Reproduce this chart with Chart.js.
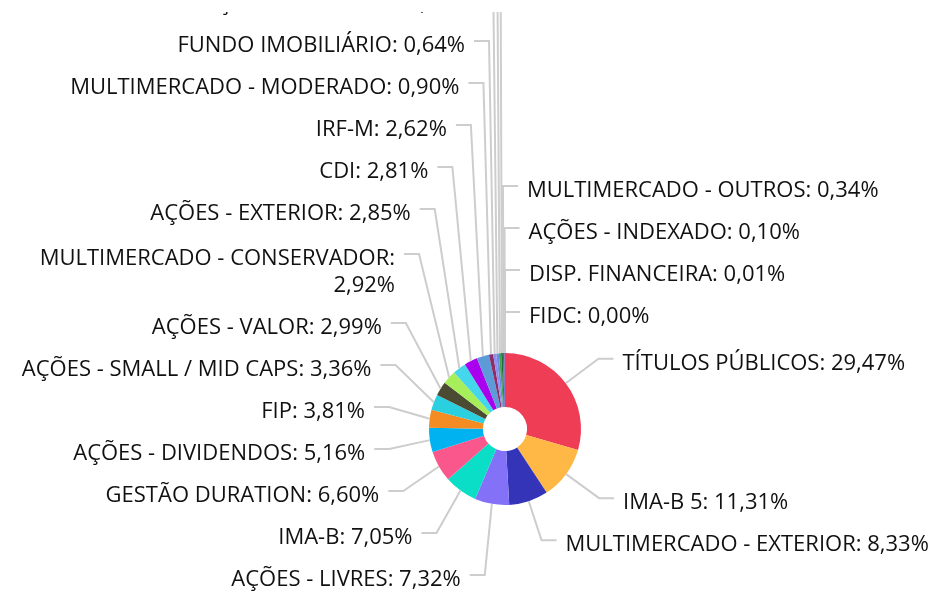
<!DOCTYPE html>
<html><head><meta charset="utf-8">
<script src="https://cdn.jsdelivr.net/npm/chart.js@4/dist/chart.umd.min.js"></script>
<style>
html,body{margin:0;padding:0;background:#fff;overflow:hidden;width:933px;height:595px}
#wrap{position:absolute;left:0;top:12px;width:933px;height:583px}
</style></head><body>
<div id="wrap"><canvas id="c" width="933" height="583"></canvas></div>
<script>
const categories = [
  "TÍTULOS PÚBLICOS", "IMA-B 5", "MULTIMERCADO - EXTERIOR", "AÇÕES - LIVRES", "IMA-B",
  "GESTÃO DURATION", "AÇÕES - DIVIDENDOS", "FIP", "AÇÕES - SMALL / MID CAPS", "AÇÕES - VALOR",
  "MULTIMERCADO - CONSERVADOR", "AÇÕES - EXTERIOR", "CDI", "IRF-M", "MULTIMERCADO - MODERADO",
  "FUNDO IMOBILIÁRIO", "AÇÕES - SETORIAIS", "RENDA FIXA - CRÉDITO", "MULTIMERCADO - ARROJADO",
  "MULTIMERCADO - OUTROS", "AÇÕES - INDEXADO", "DISP. FINANCEIRA", "FIDC"
];
const values = [
  29.47, 11.31, 8.33, 7.32, 7.05,
  6.60, 5.16, 3.81, 3.36, 2.99,
  2.92, 2.85, 2.81, 2.62, 0.90,
  0.64, 0.55, 0.50, 0.36,
  0.34, 0.10, 0.01, 0.00
];
const colors = [
  "#EF3D55", "#FFB845", "#3434B8", "#8371F7", "#0BDEC6",
  "#FA578C", "#00B3F0", "#F58B23", "#2BD0E0", "#4A4B32",
  "#A6EF5B", "#44D6EA", "#A900EE", "#5C9AD8", "#8C2E68",
  "#8F8FEF", "#6F8BE0", "#3FA34D", "#1D6B3A",
  "#3468D6", "#B03A9B", "#444444", "#999999"
];

const FONT_SIZE = 22;
const FONT = FONT_SIZE + 'px "Open Sans"';
const BEND = 41;          // bend distance beyond outer radius
const TICK = 15;          // horizontal tick length
const GAP = 9;            // gap tick -> text
const SINGLE_H = 42;      // label slot height
const EXTRA_LINE_H = 30;  // added per wrapped line
const LINE_H = 27;
const TOP_BOUND = -118;
const RIGHT_WRAP = 0.995;

function wrapText(ctx, text, maxW) {
  if (ctx.measureText(text).width <= maxW) return [text];
  const words = text.split(' ');
  const lines = [];
  let cur = '';
  for (const w of words) {
    const t = cur ? cur + ' ' + w : w;
    if (cur && ctx.measureText(t).width > maxW) { lines.push(cur); cur = w; }
    else cur = t;
  }
  if (cur) lines.push(cur);
  return lines;
}

function arrange(list) {
  list.sort((a, b) => a.key - b.key);
  for (let k = list.length - 2; k >= 0; k--)
    list[k].top = Math.min(list[k].top, list[k + 1].top - list[k].h);
  if (list.length) list[0].top = Math.max(list[0].top, TOP_BOUND);
  for (let k = 1; k < list.length; k++)
    list[k].top = Math.max(list[k].top, list[k - 1].top + list[k - 1].h);
}

const outLabels = {
  id: 'outLabels',
  afterDatasetsDraw(chart) {
    const ctx = chart.ctx;
    const arcs = chart.getDatasetMeta(0).data;
    ctx.save();
    ctx.font = FONT;
    const items = arcs.map((arc, i) => {
      const p = arc.getProps(['x', 'y', 'startAngle', 'endAngle', 'outerRadius'], true);
      const mid = (p.startAngle + p.endAngle) / 2;
      const frac = (mid + Math.PI / 2) / (2 * Math.PI);
      const right = frac < 0.5 || frac > RIGHT_WRAP;
      const ax = p.x + p.outerRadius * Math.cos(mid);
      const ay = p.y + p.outerRadius * Math.sin(mid);
      const R = p.outerRadius + BEND;
      const bx = p.x + R * Math.cos(mid);
      const idealY = p.y + R * Math.sin(mid);
      const text = categories[i] + ': ' + values[i].toFixed(2).replace('.', ',') + '%';
      const avail = right ? chart.width - (bx + TICK + GAP) : bx - TICK - GAP;
      const lines = wrapText(ctx, text, avail);
      const h = SINGLE_H + (lines.length - 1) * EXTRA_LINE_H;
      const attach = SINGLE_H / 2 + (lines.length - 1) * 3;
      const key = right ? (frac > 0.5 ? frac - 1 : frac) : -frac;
      return { right, ax, ay, bx, lines, h, attach, top: idealY - attach, key };
    });
    arrange(items.filter(d => !d.right));
    arrange(items.filter(d => d.right));
    ctx.strokeStyle = '#cdcdcd';
    ctx.lineWidth = 2;
    ctx.fillStyle = '#111';
    ctx.textBaseline = 'alphabetic';
    for (const d of items) {
      const ly = d.top + d.attach;
      const dir = d.right ? 1 : -1;
      ctx.beginPath();
      ctx.moveTo(d.ax, d.ay);
      ctx.lineTo(d.bx, ly);
      ctx.lineTo(d.bx + dir * TICK, ly);
      ctx.stroke();
      ctx.textAlign = d.right ? 'left' : 'right';
      const tx = d.bx + dir * (TICK + GAP);
      d.lines.forEach((ln, k) => ctx.fillText(ln, tx, ly + 11 + k * LINE_H));
    }
    ctx.restore();
  }
};

new Chart(document.getElementById('c'), {
  type: 'doughnut',
  data: {
    labels: categories,
    datasets: [{ data: values, backgroundColor: colors, borderWidth: 0, hoverOffset: 0, offset: 0 }]
  },
  options: {
    responsive: false,
    animation: false,
    cutout: '29%',
    layout: { padding: { left: 429, right: 352, top: 341, bottom: 90 } },
    plugins: { legend: { display: false }, tooltip: { enabled: false } },
    events: []
  },
  plugins: [outLabels]
});
</script>
</body></html>
